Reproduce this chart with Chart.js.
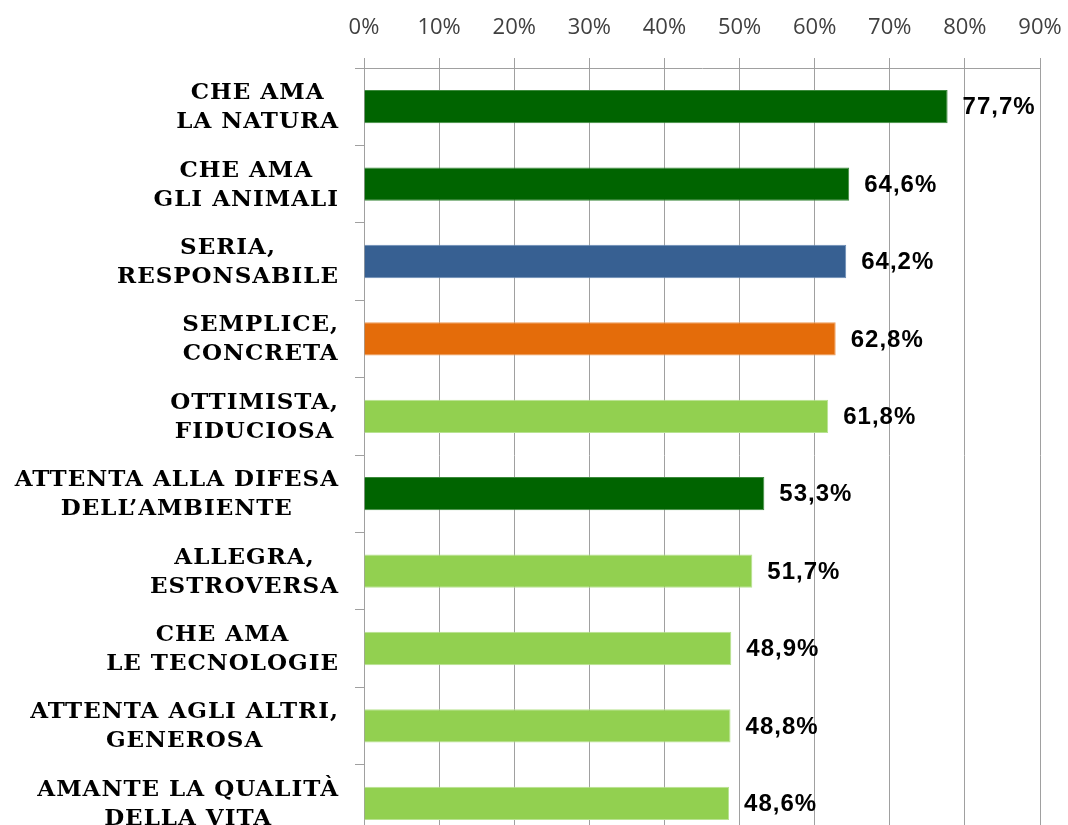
<!DOCTYPE html>
<html><head><meta charset="utf-8">
<script src="https://cdn.jsdelivr.net/npm/chart.js@4.4.1/dist/chart.umd.min.js"></script>
<style>html,body{margin:0;padding:0;overflow:hidden;background:#fff}
#wrap{width:1068px;height:850px}</style></head>
<body><div id="wrap"><canvas id="c" width="1068" height="850"></canvas></div>
<script>
const categories = [
  ["CHE AMA","LA NATURA"],
  ["CHE AMA","GLI ANIMALI"],
  ["SERIA,","RESPONSABILE"],
  ["SEMPLICE,","CONCRETA"],
  ["OTTIMISTA,","FIDUCIOSA"],
  ["ATTENTA ALLA DIFESA","DELL’AMBIENTE"],
  ["ALLEGRA,","ESTROVERSA"],
  ["CHE AMA","LE TECNOLOGIE"],
  ["ATTENTA AGLI ALTRI,","GENEROSA"],
  ["AMANTE LA QUALITÀ","DELLA VITA"]
];
const values = [77.7, 64.6, 64.2, 62.8, 61.8, 53.3, 51.7, 48.9, 48.8, 48.6];
const barColors = ["#006400","#006400","#376092","#E46C0A","#92D050","#006400","#92D050","#92D050","#92D050","#92D050"];
const barBorders = ["#3d8a3d","#3d8a3d","#6a8bb5","#ee9a55","#b8e291","#3d8a3d","#b8e291","#b8e291","#b8e291","#b8e291"];
const axisMin = 0, axisMax = 90, axisStep = 10;

const labelPlugin = {
  id: 'labelPlugin',
  afterDraw(chart) {
    const ctx = chart.ctx;
    const yScale = chart.scales.y;
    ctx.save();
    // category labels: lines centred within a right-aligned block
    ctx.font = 'bold 23px "DejaVu Serif"';
    if ('letterSpacing' in ctx) ctx.letterSpacing = '1px';
    ctx.fillStyle = '#000';
    ctx.textBaseline = 'middle';
    ctx.textAlign = 'left';
    const rightEdge = 339, pitch = 29;
    chart.data.labels.forEach((lines, i) => {
      const y = yScale.getPixelForTick(i);
      const ws = lines.map(l => ctx.measureText(l).width);
      const w = Math.max(...ws);
      const start = y - (lines.length - 1) * pitch / 2 + 1;
      lines.forEach((l, k) => ctx.fillText(l, rightEdge - w + (w - ws[k]) / 2, start + k * pitch));
    });
    // value labels
    ctx.font = 'bold 24px "Liberation Sans"';
    if ('letterSpacing' in ctx) ctx.letterSpacing = '1px';
    const meta = chart.getDatasetMeta(0);
    meta.data.forEach((bar, i) => {
      const v = chart.data.datasets[0].data[i];
      ctx.fillText(v.toFixed(1).replace('.', ',') + '%', bar.x + 15, bar.y + 1);
    });
    ctx.restore();
  }
};

new Chart(document.getElementById('c'), {
  type: 'bar',
  data: {
    labels: categories,
    datasets: [{
      data: values,
      backgroundColor: barColors,
      borderColor: barBorders,
      borderWidth: 1,
      categoryPercentage: 1,
      barPercentage: 0.43
    }]
  },
  options: {
    indexAxis: 'y',
    responsive: false,
    animation: false,
    devicePixelRatio: 1,
    layout: { padding: { left: 0, right: 28, top: 0, bottom: 8 } },
    plugins: { legend: { display: false }, tooltip: { enabled: false } },
    scales: {
      x: {
        position: 'top',
        min: axisMin, max: axisMax,
        ticks: {
          stepSize: axisStep,
          callback: v => v + '%',
          color: '#404040',
          font: { family: '"Open Sans"', size: 22 },
          padding: 17
        },
        grid: { color: '#a0a0a0', lineWidth: 1, tickLength: 10, drawTicks: true },
        border: { color: '#a0a0a0', width: 1 },
        afterFit: s => { s.height = 68; s.paddingRight = 0; s.paddingLeft = 0; }
      },
      y: {
        ticks: { display: false },
        grid: { offset: true, drawOnChartArea: false, drawTicks: true, tickLength: 9, color: '#a0a0a0' },
        border: { color: '#a0a0a0', width: 1 },
        afterFit: s => { s.width = 364; }
      }
    }
  },
  plugins: [labelPlugin]
});
</script>
</body></html>
